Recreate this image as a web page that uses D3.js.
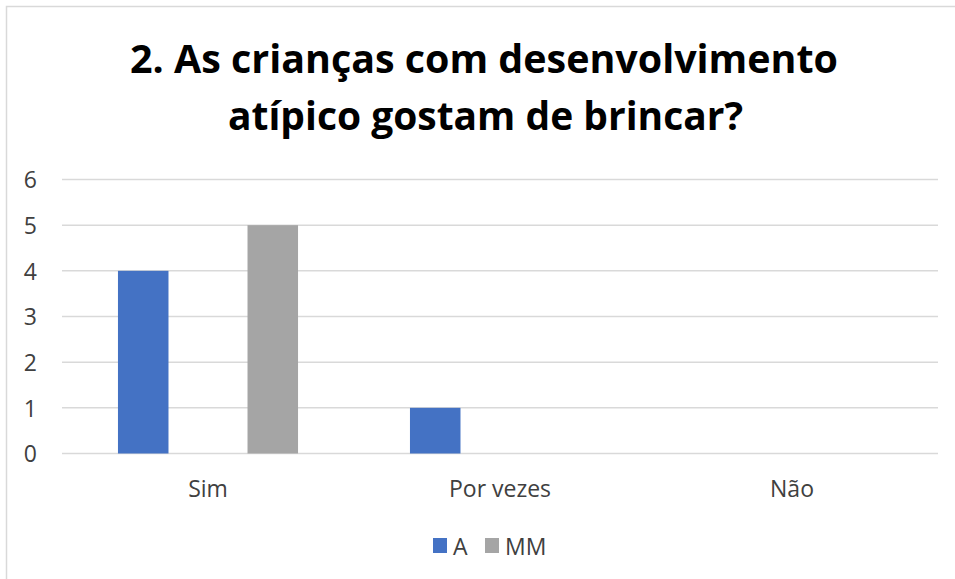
<!DOCTYPE html>
<html>
<head>
<meta charset="utf-8">
<script src="https://cdn.jsdelivr.net/npm/d3@7"></script>
<style>
  body { margin: 0; background: #fff; }
  svg { display: block; }
</style>
</head>
<body>
<svg id="chart" width="955" height="579"></svg>
<script>
// chart data
const categories = ["Sim", "Por vezes", "Não"];
const seriesNames = ["A", "MM"];
const valuesA = [4, 1, 0];
const valuesMM = [5, 0, 0];
const yTicks = [0, 1, 2, 3, 4, 5, 6];
const titleLines = ["2. As crianças com desenvolvimento", "atípico gostam de brincar?"];

const colors = { A: "#4472C4", MM: "#A5A5A5" };
const labelFont = "'Open Sans', 'Liberation Sans', sans-serif";

const svg = d3.select("#chart");

// outer frame
svg.append("rect")
  .attr("x", 6.5).attr("y", 6.5)
  .attr("width", 960).attr("height", 600)
  .attr("fill", "#fff")
  .attr("stroke", "#d9d9d9")
  .attr("stroke-width", 1.5);

// title
svg.selectAll("text.title")
  .data(titleLines)
  .enter().append("text")
    .attr("class", "title")
    .attr("x", (d, i) => i === 0 ? 484 : 485.5)
    .attr("y", (d, i) => i === 0 ? 73 : 130)
    .attr("text-anchor", "middle")
    .attr("font-family", labelFont)
    .attr("font-weight", "bold")
    .attr("font-size", 39)
    .attr("fill", "#000")
    .attr("textLength", (d, i) => i === 0 ? 708 : 515)
    .attr("lengthAdjust", "spacingAndGlyphs")
    .text(d => d);

const plotLeft = 62, plotRight = 938, plotTop = 179.5, plotBottom = 453.5;

const x0 = d3.scaleBand().domain(categories).range([plotLeft, plotRight]);
const x1 = d3.scaleBand().domain(seriesNames).range([0, x0.bandwidth()])
  .paddingInner(0.61).paddingOuter(0.432);
const y = d3.scaleLinear().domain([0, 6]).range([plotBottom, plotTop]);

// gridlines
svg.append("g")
  .selectAll("line")
  .data(yTicks)
  .enter().append("line")
    .attr("x1", plotLeft).attr("x2", plotRight)
    .attr("y1", d => y(d)).attr("y2", d => y(d))
    .attr("stroke", "#d9d9d9")
    .attr("stroke-width", 1.5);

// y axis labels
const yAxis = svg.append("g")
  .attr("transform", `translate(${plotLeft - 25},0)`)
  .call(d3.axisLeft(y).tickValues(yTicks).tickSize(0).tickPadding(0).tickFormat(d3.format("d")));
yAxis.select(".domain").remove();
yAxis.selectAll("text")
  .attr("font-family", labelFont)
  .attr("font-size", 23)
  .attr("fill", "#404040")
  .attr("dy", "0.36em");

// bars
const rows = categories.map((c, i) => ({ cat: c, A: valuesA[i], MM: valuesMM[i] }));
const groups = svg.append("g")
  .selectAll("g")
  .data(rows)
  .enter().append("g")
    .attr("transform", d => `translate(${x0(d.cat)},0)`);

groups.selectAll("rect")
  .data(d => seriesNames.map(s => ({ key: s, value: d[s] })))
  .enter().append("rect")
    .attr("x", d => x1(d.key))
    .attr("width", x1.bandwidth())
    .attr("y", d => y(d.value))
    .attr("height", d => y(0) - y(d.value))
    .attr("fill", d => colors[d.key]);

// x axis labels
const xAxis = svg.append("g")
  .attr("transform", `translate(0,${plotBottom + 27})`)
  .call(d3.axisBottom(x0).tickSize(0).tickPadding(0));
xAxis.select(".domain").remove();
xAxis.selectAll("text")
  .attr("font-family", labelFont)
  .attr("font-size", 23)
  .attr("fill", "#404040");

// legend
const legendItems = [
  { key: "A", x: 433 },
  { key: "MM", x: 485 }
];
const legend = svg.append("g");
legend.selectAll("rect")
  .data(legendItems)
  .enter().append("rect")
    .attr("x", d => d.x).attr("y", 538)
    .attr("width", 14).attr("height", 15)
    .attr("fill", d => colors[d.key]);
legend.selectAll("text")
  .data(legendItems)
  .enter().append("text")
    .attr("x", d => d.x + 20).attr("y", 555)
    .attr("font-family", labelFont)
    .attr("font-size", 23)
    .attr("fill", "#404040")
    .text(d => d.key);
</script>
</body>
</html>
